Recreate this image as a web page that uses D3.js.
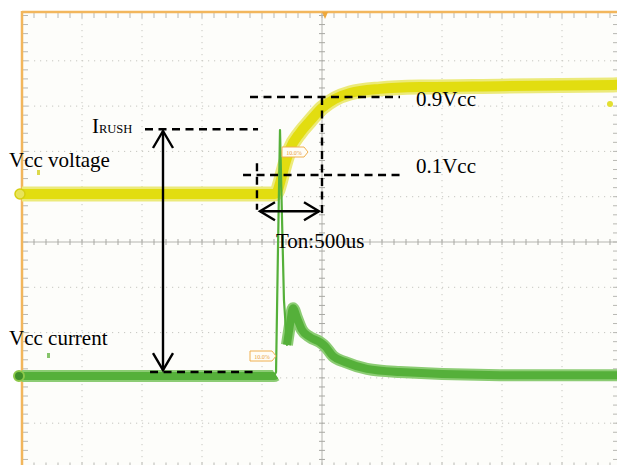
<!DOCTYPE html>
<html>
<head>
<meta charset="utf-8">
<script src="https://cdn.jsdelivr.net/npm/d3@7"></script>
<style>
  html, body { margin: 0; padding: 0; background: #ffffff; }
  svg { display: block; }
  text { font-family: "Liberation Serif", "Times New Roman", serif; }
</style>
</head>
<body>
<div id="chart"></div>
<script>
// ---------- data (time in µs, amplitude in scope divisions) ----------
const voltageTime  = [-2500, -392, -367, -350, -308, -267, -183, -100, 0, 108, 233, 483, 817, 1483, 2500];
const voltageValue = [1.06, 1.06, 1.15, 1.30, 1.72, 2.05, 2.41, 2.67, 2.96, 3.16, 3.29, 3.38, 3.42, 3.44, 3.47];

const spikeTime  = [-400, -383, -367, -350, -333, -317, -292, -275];
const spikeValue = [-2.96, -2.87, -0.18, 2.47, 0.49, -1.28, -2.27, -2.05];

const currentTime  = [-2500, -400, -383];
const currentValue = [-2.96, -2.96, -2.94];

const decayTime  = [-292, -267, -242, -208, -167, -100, -17, 25, 92, 192, 375, 650, 1483, 2500];
const decayValue = [-2.27, -1.83, -1.46, -1.68, -1.94, -2.10, -2.21, -2.30, -2.52, -2.65, -2.80, -2.87, -2.94, -2.94];

// annotation levels (µs / div)
const levelLabels = ["0.9Vcc", "0.1Vcc"];
const levelValues = [3.20, 1.48];
const irushLevel = 2.49;
const baseLevel = -2.87;
const tonStart = -542, tonEnd = 0;
const tonLabel = "Ton:500us";
const traceLabels = ["Vcc voltage", "Vcc current"];

// ---------- scales ----------
const W = 617, H = 465;
const x = d3.scaleLinear().domain([-2500, 2500]).range([22, 622]);
const y = d3.scaleLinear().domain([-5, 5]).range([468.5, 15.5]);

const svg = d3.select("#chart").append("svg").attr("width", W).attr("height", H);
svg.append("rect").attr("width", W).attr("height", H).attr("fill", "#ffffff");
svg.append("rect").attr("x", x(-2500)).attr("y", 12).attr("width", 600).attr("height", 460).attr("fill", "#fdfdfa");

// ---------- graticule ----------
const g = svg.append("g");
const majorT = d3.range(-2000, 2001, 500).filter(d => d !== 0);
const majorV = d3.range(-4, 5, 1).filter(d => d !== 0);
g.selectAll(".vg").data(majorT).join("line")
  .attr("x1", d => x(d)).attr("x2", d => x(d)).attr("y1", 12).attr("y2", H)
  .attr("stroke", "#c6c6c0").attr("stroke-width", 1).attr("stroke-dasharray", "1.2,4.8");
g.selectAll(".hg").data(majorV).join("line")
  .attr("x1", x(-2500)).attr("x2", W).attr("y1", d => y(d)).attr("y2", d => y(d))
  .attr("stroke", "#c6c6c0").attr("stroke-width", 1).attr("stroke-dasharray", "1.2,4.8");

// center lines
g.append("line").attr("x1", x(-2500)).attr("x2", W).attr("y1", y(0)).attr("y2", y(0)).attr("stroke", "#b5b5b0").attr("stroke-width", 1);
g.append("line").attr("x1", x(0)).attr("x2", x(0)).attr("y1", 12).attr("y2", H).attr("stroke", "#b5b5b0").attr("stroke-width", 1);

const minorT = d3.range(-2500, 2501, 100);
const minorV = d3.range(-25, 26, 1).map(d => d / 5);
g.selectAll(".ct").data(minorT).join("line")
  .attr("x1", d => x(d)).attr("x2", d => x(d)).attr("y1", y(0) - 3).attr("y2", y(0) + 3)
  .attr("stroke", "#a8a8a3").attr("stroke-width", 1);
g.selectAll(".cv").data(minorV).join("line")
  .attr("x1", x(0) - 3).attr("x2", x(0) + 3).attr("y1", d => y(d)).attr("y2", d => y(d))
  .attr("stroke", "#a8a8a3").attr("stroke-width", 1);
// border ticks
g.selectAll(".tt").data(minorT).join("line")
  .attr("x1", d => x(d)).attr("x2", d => x(d)).attr("y1", 12).attr("y2", 18)
  .attr("stroke", "#b8b8b3").attr("stroke-width", 1);
g.selectAll(".lt").data(minorV).join("line")
  .attr("x1", x(-2500)).attr("x2", x(-2500) + 6).attr("y1", d => y(d)).attr("y2", d => y(d))
  .attr("stroke", "#b8b8b3").attr("stroke-width", 1);
g.selectAll(".rt").data(minorV).join("line")
  .attr("x1", x(2500) - 9).attr("x2", x(2500)).attr("y1", d => y(d)).attr("y2", d => y(d))
  .attr("stroke", "#b8b8b3").attr("stroke-width", 1);
g.selectAll(".bt").data(minorT).join("line")
  .attr("x1", d => x(d)).attr("x2", d => x(d)).attr("y1", y(-5) - 6).attr("y2", y(-5))
  .attr("stroke", "#b8b8b3").attr("stroke-width", 1);

// orange frame
svg.append("line").attr("x1", x(-2500)).attr("x2", W).attr("y1", 12).attr("y2", 12).attr("stroke", "#f2b65c").attr("stroke-width", 2.5);
svg.append("line").attr("x1", x(-2500)).attr("x2", x(-2500)).attr("y1", 11).attr("y2", H).attr("stroke", "#f2b65c").attr("stroke-width", 2.5);
// trigger marker
svg.append("path").attr("d", `M${x(25)-3},12 L${x(25)+3},12 L${x(25)},19 Z`).attr("fill", "#eea83c");

// ---------- traces ----------
const line = d3.line().x(d => x(d[0])).y(d => y(d[1])).curve(d3.curveMonotoneX);
const zip = (a, b) => a.map((t, i) => [t, b[i]]);

const vData = zip(voltageTime, voltageValue);
svg.append("path").datum(vData).attr("d", line).attr("fill", "none")
  .attr("stroke", "#ecea7a").attr("stroke-width", 15).attr("stroke-linejoin", "round");
svg.append("path").datum(vData).attr("d", line).attr("fill", "none")
  .attr("stroke", "#e2dd10").attr("stroke-width", 10).attr("stroke-linejoin", "round");

const cData = zip(currentTime, currentValue);
const dData = zip(decayTime, decayValue);
const sData = zip(spikeTime, spikeValue);
[cData, dData].forEach(dd => {
  svg.append("path").datum(dd).attr("d", line).attr("fill", "none")
    .attr("stroke", "#8ccc74").attr("stroke-width", 12).attr("stroke-linejoin", "round");
  svg.append("path").datum(dd).attr("d", line).attr("fill", "none")
    .attr("stroke", "#55b03a").attr("stroke-width", 8).attr("stroke-linejoin", "round");
});
svg.append("path").datum(sData).attr("d", d3.line().x(d => x(d[0])).y(d => y(d[1]))).attr("fill", "none")
  .attr("stroke", "#55b03a").attr("stroke-width", 2.2).attr("stroke-linejoin", "round");

// channel markers
svg.append("circle").attr("cx", x(-2500) - 2).attr("cy", y(voltageValue[0])).attr("r", 5)
  .attr("fill", "#e8e45a").attr("stroke", "#d6cf10").attr("stroke-width", 1.5);
svg.append("circle").attr("cx", x(-2500) - 3).attr("cy", y(currentValue[0])).attr("r", 5)
  .attr("fill", "#3f8f2a").attr("stroke", "#8cc84a").attr("stroke-width", 2);
svg.append("circle").attr("cx", 610).attr("cy", 104).attr("r", 3).attr("fill", "#e3df30");
// tiny channel glyphs
svg.append("rect").attr("x", 37).attr("y", 170).attr("width", 3).attr("height", 5).attr("fill", "#dcd84a");
svg.append("rect").attr("x", 47).attr("y", 353).attr("width", 3).attr("height", 5).attr("fill", "#86c46a");

// 10.0% tags
function tag(tx, ty) {
  const w = 22, h = 10;
  svg.append("path").attr("d", `M${tx},${ty} h${w} l4,${h/2} l-4,${h/2} h${-w} Z`)
    .attr("fill", "#fffdf6").attr("stroke", "#f0b050").attr("stroke-width", 1);
  svg.append("text").attr("x", tx + 12).attr("y", ty + 7.5).attr("text-anchor", "middle")
    .attr("font-size", 6).attr("font-family", "DejaVu Sans").attr("fill", "#e8a040").text("10.0%");
}
tag(282, 147);
tag(250, 351);

// ---------- annotations ----------
const ann = svg.append("g").attr("stroke", "#000").attr("stroke-width", 2.4).attr("fill", "none");
const dash = "8,5.5";
ann.append("line").attr("x1", x(-1475)).attr("x2", x(-533)).attr("y1", y(irushLevel)).attr("y2", y(irushLevel)).attr("stroke-dasharray", dash);
ann.append("line").attr("x1", x(-1433)).attr("x2", x(-533)).attr("y1", y(baseLevel)).attr("y2", y(baseLevel)).attr("stroke-dasharray", dash);
const levelStarts = [-600, -658];
levelValues.forEach((v, i) => {
  ann.append("line").attr("x1", x(levelStarts[i])).attr("x2", x(650)).attr("y1", y(v)).attr("y2", y(v)).attr("stroke-dasharray", dash);
});
ann.append("line").attr("x1", x(tonStart)).attr("x2", x(tonStart)).attr("y1", y(1.74)).attr("y2", y(0.71)).attr("stroke-dasharray", dash);
ann.append("line").attr("x1", x(tonEnd)).attr("x2", x(tonEnd)).attr("y1", y(levelValues[0])).attr("y2", y(0.55)).attr("stroke-dasharray", dash);

// vertical double arrow
const ax = x(-1325), ay1 = y(2.45), ay2 = y(-2.83);
ann.append("line").attr("x1", ax).attr("x2", ax).attr("y1", ay1).attr("y2", ay2);
ann.append("path").attr("d", `M${ax-10},${ay1+17} L${ax},${ay1} L${ax+10},${ay1+17}`);
ann.append("path").attr("d", `M${ax-10},${ay2-17} L${ax},${ay2} L${ax+10},${ay2-17}`);
// horizontal double arrow
const hy = y(0.68), hx1 = x(-517), hx2 = x(-25);
ann.append("line").attr("x1", hx1).attr("x2", hx2).attr("y1", hy).attr("y2", hy);
ann.append("path").attr("d", `M${hx1+15},${hy-9} L${hx1},${hy} L${hx1+15},${hy+9}`);
ann.append("path").attr("d", `M${hx2-15},${hy-9} L${hx2},${hy} L${hx2-15},${hy+9}`);

// labels
const fs = 21;
const lbl = svg.append("g").attr("fill", "#000").attr("font-size", fs);
lbl.append("text").attr("x", x(783)).attr("y", 106).text(levelLabels[0]);
lbl.append("text").attr("x", x(783)).attr("y", 173).text(levelLabels[1]);
lbl.append("text").attr("x", 276).attr("y", 248).text(tonLabel);
lbl.append("text").attr("x", 9).attr("y", 167).text(traceLabels[0]);
lbl.append("text").attr("x", 9).attr("y", 345).text(traceLabels[1]);
const ir = lbl.append("text").attr("x", 92).attr("y", 133);
ir.append("tspan").text("I");
ir.append("tspan").attr("font-size", 12.5).text("RUSH");
</script>
</body>
</html>
